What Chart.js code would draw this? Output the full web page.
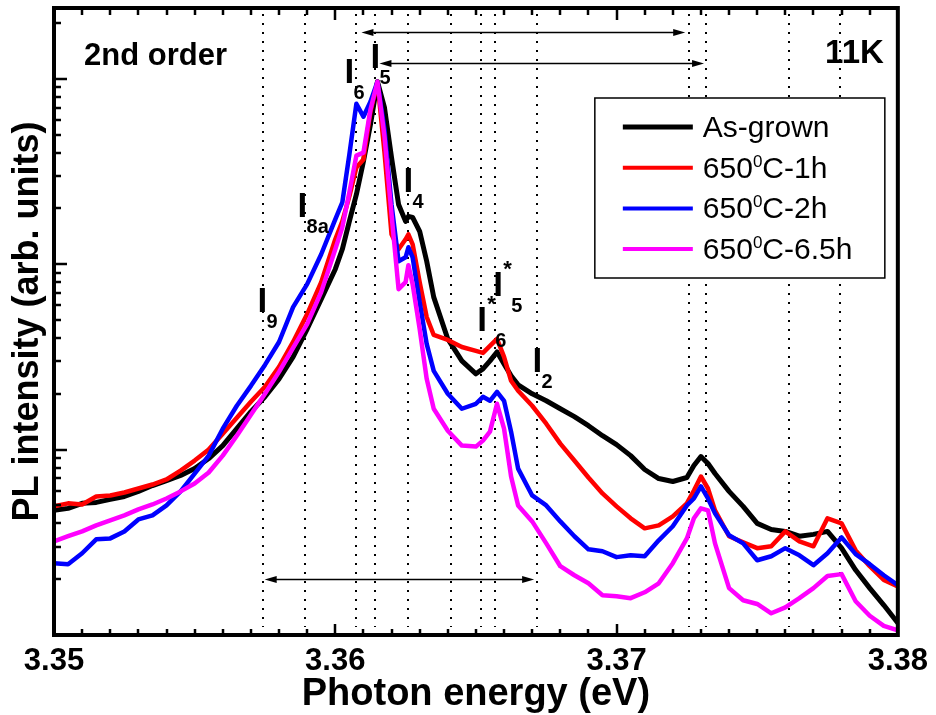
<!DOCTYPE html>
<html>
<head>
<meta charset="utf-8">
<title>PL spectra, 2nd order, 11K</title>
<script src="https://cdn.jsdelivr.net/npm/chart.js@4.4.1/dist/chart.umd.min.js"></script>
<style>
  body { margin: 0; background: #fff; }
  canvas { display: block; }
</style>
</head>
<body>
<canvas id="plChart" width="936" height="715"></canvas>
<script>
const FONT = "'Liberation Sans', Arial, Helvetica, sans-serif";

// Photon energy grid (eV), shared by the four spectra
const energy = [
  3.3500, 3.3505, 3.3510, 3.3515, 3.3520, 3.3525, 3.3530, 3.3535, 3.3540, 3.3545,
  3.3550, 3.3555, 3.3560, 3.3565, 3.3570, 3.3575, 3.3580, 3.3585, 3.3590, 3.3595,
  3.3600, 3.36025, 3.3605, 3.36075, 3.3610, 3.36125, 3.3615, 3.36175, 3.3620, 3.36225,
  3.3625, 3.3626, 3.36275, 3.3630, 3.36325, 3.3635, 3.3640, 3.3645, 3.3650, 3.36525,
  3.3655, 3.36575, 3.3660, 3.36625, 3.3665, 3.3670, 3.3675, 3.3680, 3.3685, 3.3690,
  3.3695, 3.3700, 3.3705, 3.3710, 3.3715, 3.3720, 3.3725, 3.37275, 3.3730, 3.37325,
  3.3735, 3.3740, 3.3745, 3.3750, 3.3755, 3.3760, 3.3765, 3.3770, 3.3775, 3.3780,
  3.3785, 3.3790, 3.3795, 3.3800
];

// PL intensity (arb. units)
const asGrown = [
  0.470, 0.482, 0.513, 0.519, 0.539, 0.559, 0.595, 0.640, 0.681, 0.725,
  0.790, 0.895, 1.051, 1.297, 1.601, 1.927, 2.408, 3.162, 4.472, 6.482,
  9.400, 12.04, 17.03, 23.79, 35.8, 56.6, 96.4, 69.8, 37.6, 21.0,
  17.03, 18.12, 17.89, 15.05, 10.38, 6.645, 3.953, 3.009, 2.563, 2.726,
  3.009, 3.364, 2.900, 2.500, 2.236, 2.000, 1.834, 1.661, 1.505, 1.346,
  1.189, 1.064, 0.928, 0.781, 0.698, 0.673, 0.707, 0.820, 0.917, 0.841,
  0.743, 0.595, 0.494, 0.400, 0.371, 0.362, 0.341, 0.349, 0.362, 0.294,
  0.224, 0.179, 0.145, 0.116
];
const anneal1h = [
  0.494, 0.513, 0.506, 0.559, 0.566, 0.587, 0.617, 0.648, 0.690, 0.771,
  0.873, 1.000, 1.219, 1.486, 1.812, 2.182, 2.794, 3.807, 5.385, 8.003,
  13.63, 17.03, 23.21, 33.22, 36.69, 66.45, 96.4, 40.02, 14.50, 12.04,
  13.63, 14.50, 12.81, 8.003, 5.189, 4.153, 3.904, 3.578, 3.406, 3.322,
  3.624, 3.953, 3.162, 2.350, 2.076, 1.724, 1.380, 1.077, 0.873, 0.707,
  0.580, 0.494, 0.426, 0.376, 0.390, 0.436, 0.513, 0.602, 0.716, 0.617,
  0.470, 0.341, 0.316, 0.294, 0.301, 0.362, 0.320, 0.301, 0.426, 0.400,
  0.286, 0.235, 0.198, 0.183
];
const anneal2h = [
  0.244, 0.241, 0.276, 0.328, 0.332, 0.362, 0.420, 0.442, 0.500, 0.595,
  0.743, 0.928, 1.297, 1.724, 2.208, 2.864, 3.807, 5.871, 7.806, 11.32,
  17.46, 21.54, 39.04, 73.37, 62.48, 75.20, 96.4, 53.18, 21.0, 10.38,
  10.90, 12.34, 10.90, 6.247, 3.715, 2.659, 2.000, 1.661, 1.767, 1.927,
  1.834, 2.050, 1.834, 1.250, 0.790, 0.566, 0.500, 0.410, 0.341, 0.290,
  0.283, 0.263, 0.269, 0.266, 0.324, 0.386, 0.500, 0.545, 0.633, 0.545,
  0.453, 0.345, 0.312, 0.253, 0.266, 0.294, 0.269, 0.238, 0.276, 0.336,
  0.273, 0.241, 0.210, 0.186
];
const anneal65h = [
  0.320, 0.341, 0.362, 0.390, 0.415, 0.442, 0.476, 0.506, 0.545, 0.595,
  0.656, 0.752, 0.928, 1.189, 1.542, 2.000, 2.627, 3.535, 4.757, 7.072,
  12.04, 15.81, 24.39, 38.55, 40.02, 68.13, 96.4, 48.78, 18.57, 7.336,
  8.003, 9.877, 7.806, 4.472, 2.408, 1.661, 1.265, 1.051, 1.038, 1.118,
  1.250, 1.767, 1.297, 0.716, 0.500, 0.410, 0.312, 0.235, 0.210, 0.190,
  0.164, 0.162, 0.158, 0.170, 0.190, 0.244, 0.332, 0.426, 0.482, 0.470,
  0.312, 0.179, 0.154, 0.147, 0.131, 0.141, 0.158, 0.179, 0.208, 0.213,
  0.152, 0.127, 0.112, 0.106
];

// legend text: [before superscript, superscript, after]
const seriesNames = [['As-grown', '', ''], ['650', '0', 'C-1h'], ['650', '0', 'C-2h'], ['650', '0', 'C-6.5h']];
const seriesColors = ['#000000', '#ff0000', '#0000ff', '#ff00ff'];

const xTicks = [3.35, 3.36, 3.37, 3.38];

// dotted lines at the emission energies (eV)
const lineEnergies = [3.35742, 3.35891, 3.36072, 3.36140, 3.36257, 3.36413, 3.36519,
  3.36569, 3.36718, 3.37258, 3.37318, 3.37613, 3.37794];

// double arrows: from (eV), to (eV), height (intensity)
const arrows = [[3.36093, 3.37244, 179], [3.36157, 3.37311, 122], [3.35749, 3.36707, 0.2]];

// line names: left of the "I" stem (eV), baseline (intensity)
const peakLabels = [
  { sub: '9', e: 3.35731, v: 5.52 },
  { sub: '8a', e: 3.35873, v: 17.9 },
  { sub: '6', e: 3.36040, v: 95.1 },
  { sub: '5', e: 3.36132, v: 114.6 },
  { sub: '4', e: 3.36250, v: 24.4 },
  { sub: '6', e: 3.36512, v: 4.36, star: true },
  { sub: '5', e: 3.36569, v: 6.73, star: true },
  { sub: '2', e: 3.36708, v: 2.63 }
];

function drawArrow(ctx, x1, x2, y) {
  const head = 12, half = 3.5;
  ctx.beginPath();
  ctx.moveTo(x1 + head - 2, y);
  ctx.lineTo(x2 - head + 2, y);
  ctx.stroke();
  [[x1, 1], [x2, -1]].forEach(([tip, dir]) => {
    ctx.beginPath();
    ctx.moveTo(tip, y);
    ctx.lineTo(tip + dir * head, y - half);
    ctx.lineTo(tip + dir * head, y + half);
    ctx.closePath();
    ctx.fill();
  });
}

function drawPeakLabels(ctx, scales) {
  ctx.fillStyle = '#000';
  ctx.textBaseline = 'alphabetic';
  ctx.textAlign = 'left';
  peakLabels.forEach(lab => {
    const x = scales.x.getPixelForValue(lab.e);
    const y = scales.y.getPixelForValue(lab.v);
    ctx.font = `bold 35px ${FONT}`;
    ctx.fillText('I', x - 2, y);
    ctx.font = `bold 20px ${FONT}`;
    if (lab.star) {
      ctx.font = `bold 22px ${FONT}`;
      ctx.fillText('*', x + 8, y - 20);
      ctx.font = `bold 20px ${FONT}`;
      ctx.fillText(lab.sub, x + 16, y + 16);
    } else {
      ctx.fillText(lab.sub, x + 7, y + 16);
    }
  });
}

function drawLegendBox(ctx, area, chart) {
  const left = area.right - 303, top = area.top + 90, width = 290, height = 180;
  ctx.fillStyle = '#fff';
  ctx.fillRect(left, top, width, height);
  ctx.strokeStyle = '#000';
  ctx.lineWidth = 1.5;
  ctx.strokeRect(left, top, width, height);

  chart.data.datasets.forEach((ds, i) => {
    const rowY = top + 29 + i * 40.7;
    ctx.strokeStyle = ds.borderColor;
    ctx.lineWidth = i === 0 ? 5 : 4;
    ctx.beginPath();
    ctx.moveTo(left + 28, rowY);
    ctx.lineTo(left + 98, rowY);
    ctx.stroke();

    const [pre, sup, post] = seriesNames[i];
    let x = left + 108;
    const base = rowY + 10;
    ctx.fillStyle = '#000';
    ctx.textAlign = 'left';
    ctx.textBaseline = 'alphabetic';
    ctx.font = `30px ${FONT}`;
    ctx.fillText(pre, x, base);
    x += ctx.measureText(pre).width;
    if (sup) {
      ctx.font = `17px ${FONT}`;
      ctx.fillText(sup, x, base - 11);
      x += ctx.measureText(sup).width;
      ctx.font = `30px ${FONT}`;
      ctx.fillText(post, x, base);
    }
  });
}

function drawFrame(ctx, area, scales) {
  ctx.strokeStyle = '#000';
  ctx.lineWidth = 2.5;
  // minor ticks every meV, major every 10 meV, on bottom and top edges
  for (let k = 1; k < 30; k++) {
    const px = Math.round(scales.x.getPixelForValue(3.35 + k * 0.001));
    const len = k % 10 === 0 ? 11 : 6;
    ctx.beginPath();
    ctx.moveTo(px, area.bottom);
    ctx.lineTo(px, area.bottom - len);
    ctx.moveTo(px, area.top);
    ctx.lineTo(px, area.top + len + 1);
    ctx.stroke();
  }
  // log ticks on the left edge
  for (let p = -1; p <= 2; p++) {
    for (let m = 1; m <= 9; m++) {
      const v = m * Math.pow(10, p);
      if (v <= scales.y.min || v >= scales.y.max) continue;
      const py = Math.round(scales.y.getPixelForValue(v));
      ctx.beginPath();
      ctx.moveTo(area.left, py);
      ctx.lineTo(area.left + (m === 1 ? 13 : 7), py);
      ctx.stroke();
    }
  }
  ctx.lineWidth = 4;
  ctx.strokeRect(area.left, area.top, area.right - area.left, area.bottom - area.top);
}

const decorations = {
  id: 'decorations',
  beforeDatasetsDraw(chart) {
    const { ctx, chartArea: area, scales } = chart;
    ctx.save();
    ctx.strokeStyle = '#000';
    ctx.lineWidth = 2;
    ctx.setLineDash([2, 7]);
    lineEnergies.forEach(e => {
      const px = Math.round(scales.x.getPixelForValue(e));
      ctx.beginPath();
      ctx.moveTo(px, area.top + 6);
      ctx.lineTo(px, area.bottom - 8);
      ctx.stroke();
    });
    ctx.restore();
  },
  afterDatasetsDraw(chart) {
    const { ctx, chartArea: area, scales } = chart;
    ctx.save();

    ctx.strokeStyle = '#000';
    ctx.fillStyle = '#000';
    ctx.lineWidth = 1.5;
    arrows.forEach(([e1, e2, v]) => {
      drawArrow(ctx, scales.x.getPixelForValue(e1), scales.x.getPixelForValue(e2),
        Math.round(scales.y.getPixelForValue(v)) + 0.5);
    });

    drawPeakLabels(ctx, scales);

    ctx.fillStyle = '#000';
    ctx.textBaseline = 'alphabetic';
    ctx.font = `bold 31px ${FONT}`;
    ctx.textAlign = 'left';
    ctx.fillText('2nd order', area.left + 30, area.top + 57);
    ctx.font = `bold 33px ${FONT}`;
    ctx.textAlign = 'right';
    ctx.fillText('11K', area.right - 14, area.top + 55);

    drawLegendBox(ctx, area, chart);
    drawFrame(ctx, area, scales);
    ctx.restore();
  }
};

const datasets = [asGrown, anneal1h, anneal2h, anneal65h].map((vals, i) => ({
  label: seriesNames[i].join(''),
  data: energy.map((e, k) => ({ x: e, y: vals[k] })),
  borderColor: seriesColors[i],
  backgroundColor: seriesColors[i],
  borderWidth: i === 0 ? 5 : 4.5,
  borderJoinStyle: 'round',
  borderCapStyle: 'round',
  pointRadius: 0,
  tension: 0,
  fill: false,
  order: 4 - i   // magenta drawn last, black first
}));

new Chart(document.getElementById('plChart'), {
  type: 'line',
  data: { datasets },
  options: {
    responsive: false,
    animation: false,
    devicePixelRatio: 1,
    layout: { padding: { top: 8, right: 36, left: 0, bottom: 0 } },
    plugins: {
      legend: { display: false },
      tooltip: { enabled: false }
    },
    scales: {
      x: {
        type: 'linear',
        min: 3.35,
        max: 3.38,
        afterBuildTicks: scale => { scale.ticks = xTicks.map(v => ({ value: v })); },
        afterFit: scale => { scale.height = 80; },
        ticks: {
          callback: v => v.toFixed(2),
          color: '#000',
          font: { family: FONT, size: 31, weight: 'bold' },
          padding: 8,
          maxRotation: 0,
          autoSkip: false
        },
        grid: { display: false, drawTicks: false },
        border: { display: false },
        title: {
          display: true,
          text: 'Photon energy (eV)',
          color: '#000',
          font: { family: FONT, size: 38, weight: 'bold', lineHeight: 1.1 },
          padding: 0
        }
      },
      y: {
        type: 'logarithmic',
        min: 0.1,
        max: 241,
        afterFit: scale => { scale.width = 54; },
        ticks: { display: false },
        grid: { display: false, drawTicks: false },
        border: { display: false },
        title: {
          display: true,
          text: 'PL intensity (arb. units)',
          color: '#000',
          font: { family: FONT, size: 36, weight: 'bold', lineHeight: 1.2 },
          padding: { top: 6, bottom: 0 }
        }
      }
    }
  },
  plugins: [decorations]
});
</script>
</body>
</html>
